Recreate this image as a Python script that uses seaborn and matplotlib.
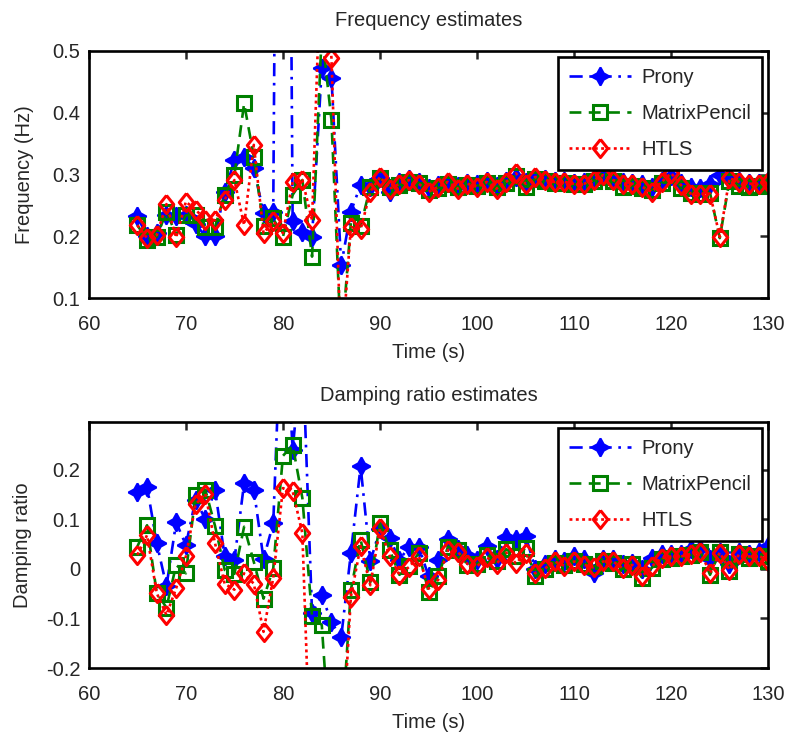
import numpy as np
import pandas as pd
import matplotlib
matplotlib.use("Agg")
import matplotlib.pyplot as plt
import seaborn as sns

# ---------------- data ----------------
time_s = list(range(65, 131))

freq_prony = [0.232, 0.200, 0.205, 0.235, 0.232, 0.235, 0.220, 0.200, 0.200, 0.272,
              0.323, 0.329, 0.310, 0.238, 0.240, 2.500, 0.224, 0.207, 0.199, 0.472,
              0.456, 0.153, 0.240, 0.283, 0.280, 0.294,
              0.272, 0.288, 0.293, 0.288, 0.278, 0.283, 0.288, 0.282, 0.287, 0.284,
              0.290, 0.282, 0.290, 0.296, 0.288, 0.294, 0.292, 0.290, 0.289, 0.287,
              0.288, 0.292, 0.298, 0.292, 0.288, 0.287, 0.284, 0.280, 0.290, 0.298,
              0.287, 0.280, 0.278, 0.284, 0.300, 0.292, 0.289, 0.287, 0.287, 0.289]

freq_mp = [0.218, 0.194, 0.199, 0.240, 0.202, 0.234, 0.234, 0.215, 0.215, 0.267,
           0.299, 0.415, 0.329, 0.216, 0.229, 0.199, 0.267, 0.291, 0.167, 0.530,
           0.388, 0.020, 0.222, 0.216, 0.280, 0.294,
           0.280, 0.283, 0.288, 0.287, 0.275, 0.278, 0.285, 0.280, 0.283, 0.282,
           0.286, 0.280, 0.287, 0.298, 0.280, 0.293, 0.289, 0.287, 0.286, 0.284,
           0.284, 0.290, 0.296, 0.289, 0.280, 0.282, 0.278, 0.275, 0.286, 0.300,
           0.278, 0.270, 0.268, 0.270, 0.197, 0.290, 0.282, 0.280, 0.282, 0.286]

freq_htls = [0.218, 0.197, 0.202, 0.252, 0.198, 0.256, 0.243, 0.227, 0.226, 0.259,
             0.291, 0.218, 0.348, 0.205, 0.224, 0.205, 0.288, 0.291, 0.226, 0.700,
             0.488, 0.000, 0.215, 0.211, 0.272, 0.296,
             0.277, 0.285, 0.291, 0.285, 0.272, 0.280, 0.288, 0.277, 0.285, 0.280,
             0.288, 0.277, 0.288, 0.302, 0.285, 0.296, 0.291, 0.288, 0.288, 0.285,
             0.285, 0.291, 0.299, 0.291, 0.285, 0.285, 0.280, 0.272, 0.288, 0.302,
             0.283, 0.269, 0.269, 0.269, 0.199, 0.294, 0.288, 0.285, 0.285, 0.288]

damp_prony = [0.156, 0.166, 0.052, -0.035, 0.094, 0.048, 0.140, 0.100, 0.160, 0.025,
              0.018, 0.173, 0.160, 0.020, 0.092, 0.600, 0.240, 0.450, -0.090, -0.053,
              -0.108, -0.138, 0.032, 0.207, 0.015, 0.080,
              0.062, 0.018, 0.045, 0.045, -0.015, 0.018, 0.060, 0.040, 0.028, 0.018,
              0.046, 0.020, 0.065, 0.060, 0.067, 0.000, 0.010, 0.020, 0.015, 0.025,
              0.020, -0.009, 0.020, 0.020, 0.010, 0.012, 0.000, 0.022, 0.030, 0.030,
              0.030, 0.040, 0.040, 0.020, 0.035, 0.010, 0.035, 0.030, 0.035, 0.046]

damp_mp = [0.045, 0.088, -0.049, -0.078, 0.008, -0.009, 0.149, 0.160, 0.087, -0.002,
           -0.010, 0.085, 0.014, -0.060, 0.001, 0.228, 0.250, 0.143, -0.096, -0.113,
           -0.400, -0.350, -0.042, 0.059, -0.027, 0.092,
           0.038, -0.012, 0.005, 0.032, -0.046, -0.015, 0.045, 0.038, 0.008, 0.010,
           0.028, 0.015, 0.040, 0.025, 0.042, -0.015, 0.000, 0.012, 0.008, 0.015,
           0.010, 0.005, 0.015, 0.012, 0.000, 0.010, -0.018, 0.002, 0.020, 0.022,
           0.025, 0.028, 0.035, -0.012, 0.035, -0.004, 0.030, 0.022, 0.025, 0.015]

damp_htls = [0.028, 0.068, -0.049, -0.093, -0.039, 0.025, 0.130, 0.152, 0.052, -0.030,
             -0.042, -0.009, -0.030, -0.127, -0.018, 0.163, 0.157, 0.072, -0.500, -0.600,
             -0.550, -0.400, -0.056, 0.046, -0.033, 0.082,
             0.026, -0.012, 0.004, 0.026, -0.040, -0.022, 0.038, 0.035, 0.010, 0.005,
             0.023, 0.010, 0.033, 0.011, 0.032, -0.009, 0.001, 0.015, 0.006, 0.015,
             0.008, 0.003, 0.015, 0.015, 0.001, 0.008, -0.015, 0.005, 0.022, 0.025,
             0.025, 0.030, 0.035, -0.009, 0.033, -0.002, 0.030, 0.025, 0.027, 0.016]

method_names = ["Prony", "MatrixPencil", "HTLS"]
x_ticks = [60, 70, 80, 90, 100, 110, 120, 130]
freq_ticks = [0.1, 0.2, 0.3, 0.4, 0.5]
damp_ticks = [-0.2, -0.1, 0, 0.1, 0.2]
damp_ticklabels = ["-0.2", "-0.1", "0", "0.1", "0.2"]

# ---------------- style ----------------
sns.set_style("white")
plt.rcParams["font.family"] = ["Liberation Sans", "DejaVu Sans"]
plt.rcParams["axes.unicode_minus"] = False

FS = 14.5

fig = plt.figure(figsize=(7.89, 7.47), dpi=100)
W, H = 789, 747
def box(x0, y0, x1, y1):
    return [x0 / W, 1 - y1 / H, (x1 - x0) / W, (y1 - y0) / H]

ax1 = fig.add_axes(box(88.8, 51, 768.3, 298))
ax2 = fig.add_axes(box(88.8, 421.7, 768.3, 668))

diamond = [(0, 1), (0.8, 0), (0, -1), (-0.8, 0), (0, 1)]

styles = [
    dict(color=(0, 0, 1), dashes=(5, 2.5, 1, 2.5), marker=(4, 1, 0), markersize=13,
         markerfacecolor=(0, 0, 1), markeredgecolor=(0, 0, 1), markeredgewidth=1.5),
    dict(color=(0, 0.5, 0), dashes=(4.5, 2.8), marker="s", markersize=10.5,
         markerfacecolor="none", markeredgecolor=(0, 0.5, 0), markeredgewidth=2.2),
    dict(color=(1, 0, 0), dashes=(1.1, 1.3), marker=diamond, markersize=13,
         markerfacecolor="none", markeredgecolor=(1, 0, 0), markeredgewidth=2.2),
]

def draw(ax, series, ylim, yticks, yticklabels, ylabel, title, tpad, ylpad):
    for name, vals, st in zip(method_names, series, styles):
        df = pd.DataFrame({"t": time_s, "v": vals})
        sns.lineplot(data=df, x="t", y="v", ax=ax, sort=False, label=name,
                     linewidth=1.9, **st)
    ax.set_xlim(60, 130)
    ax.set_ylim(*ylim)
    ax.set_xticks(x_ticks)
    ax.set_yticks(yticks)
    if yticklabels is not None:
        ax.set_yticklabels(yticklabels)
    ax.set_xlabel("Time (s)", fontsize=FS, labelpad=7)
    ax.set_ylabel(ylabel, fontsize=FS, labelpad=ylpad)
    ax.set_title(title, fontsize=FS, pad=tpad)
    ax.tick_params(axis="x", direction="in", top=True, length=6, width=1.8,
                   labelsize=FS, pad=12)
    ax.tick_params(axis="y", direction="in", right=True, length=6, width=1.8,
                   labelsize=FS, pad=6)
    for sp in ax.spines.values():
        sp.set_linewidth(1.9)
        sp.set_color("black")
    leg = ax.legend(loc="upper right", fontsize=FS, handlelength=3.1,
                    fancybox=False, framealpha=1, edgecolor="black",
                    borderaxespad=0.3, labelspacing=0.85, handletextpad=0.5,
                    borderpad=0.55)
    leg.get_frame().set_linewidth(1.9)

draw(ax1, [freq_prony, freq_mp, freq_htls], (0.1, 0.5), freq_ticks, None,
     "Frequency (Hz)", "Frequency estimates", 18, 13)
draw(ax2, [damp_prony, damp_mp, damp_htls], (-0.2, 0.297), damp_ticks, damp_ticklabels,
     "Damping ratio", "Damping ratio estimates", 15, 10)

fig.savefig("out.png", dpi=100, facecolor="white")
